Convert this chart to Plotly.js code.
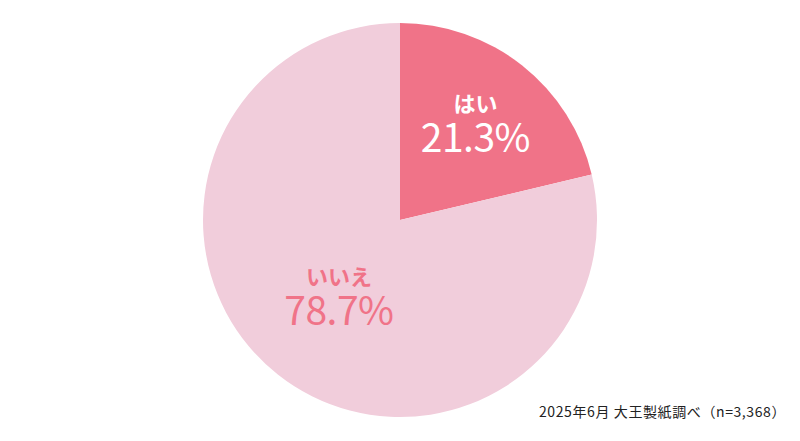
<!DOCTYPE html>
<html><head><meta charset="utf-8">
<script src="https://cdn.plot.ly/plotly-3.0.1.min.js"></script>
<style>html,body{margin:0;padding:0;background:#fff}#c{width:800px;height:441px}</style>
</head><body><div id="c"></div>
<script>
const labels = ["はい", "いいえ"];
const values = [21.3, 78.7];
const colors = ["#F07388", "#F1CDDB"];
const textColors = ["#FFFFFF", "#F07388"];
const note = "2025年6月 大王製紙調べ（n=3,368）";

const texts = labels.map((l, i) =>
  `<span style="font-size:22px;font-weight:700">${l}</span><br><span style="font-size:39px;letter-spacing:-0.5px">${values[i].toFixed(1)}%</span>`);

const data = [{
  type: "pie",
  labels: labels,
  values: values,
  text: texts,
  textinfo: "text",
  texttemplate: "%{text}",
  hoverinfo: "none",
  sort: false,
  direction: "clockwise",
  rotation: 0,
  marker: {colors: colors, line: {width: 0}},
  textposition: "inside",
  insidetextorientation: "horizontal",
  insidetextfont: {color: textColors, family: "Noto Sans CJK JP", size: 31},
  showlegend: false
}];

const layout = {
  width: 800, height: 441,
  margin: {l: 0, r: 0, t: 23, b: 24},
  paper_bgcolor: "#fff",
  font: {family: "Noto Sans CJK JP"},
  annotations: [{
    text: '<span style="letter-spacing:0.6px">' + note + '</span>',
    xref: "paper", yref: "paper", x: 1, y: 0,
    xanchor: "right", yanchor: "middle", xshift: -12, yshift: 6,
    showarrow: false, font: {size: 14, color: "#222", family: "Noto Sans CJK JP"}
  }]
};
Plotly.newPlot("c", data, layout, {displayModeBar: false, staticPlot: true});
</script></body></html>
